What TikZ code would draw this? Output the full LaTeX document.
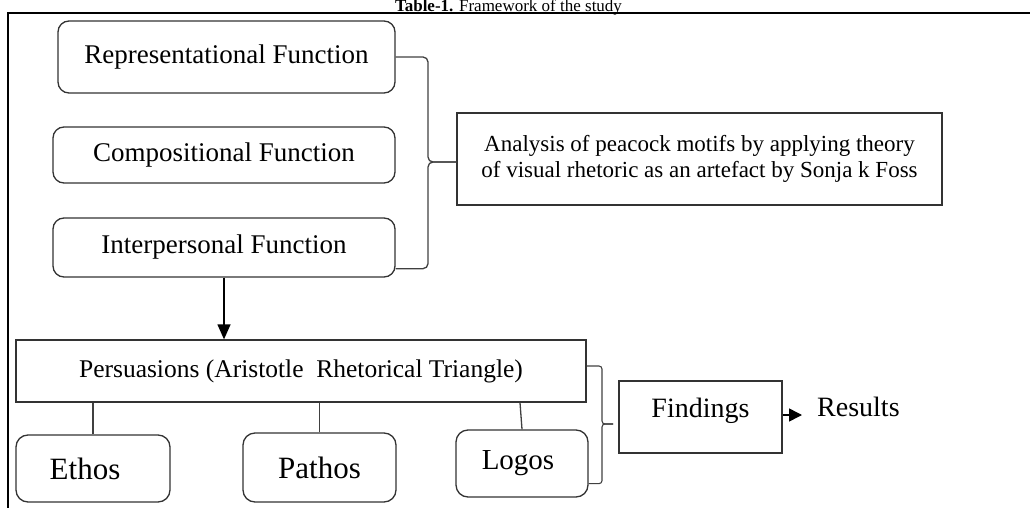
\documentclass[tikz,border=0pt]{standalone}
\usepackage{fontspec}
\setmainfont{Liberation Serif}
\usetikzlibrary{arrows.meta,calc}
\begin{document}
\begin{tikzpicture}[x=1pt,y=-1pt,
  fnbox/.style={draw=black!80,line width=1.3pt,rounded corners=11pt,inner sep=0pt,font=\fontsize{27}{29}\selectfont},
  bigbox/.style={draw=black!80,line width=1.3pt,rounded corners=12pt,inner sep=0pt,font=\fontsize{31}{33}\selectfont},
  sqbox/.style={draw=black!80,line width=1.3pt,inner sep=0pt},
  conn/.style={draw=black!75,line width=1.3pt},
  arr/.style={draw=black,line width=1.3pt,-{Triangle[length=15pt,width=13pt]}}]
\useasboundingbox (0,0) rectangle (1030,508);
% title
\node[anchor=base,inner sep=0pt,font=\fontsize{17}{19}\selectfont] (title) at (508.5,11.5) {\textbf{Table-1.} Framework of the study};
% outer frame
\draw[line width=2pt] (8,530) -- (8,13.5) -- (1050,13.5);
% function boxes
\node[fnbox,minimum width=337pt,minimum height=72pt] (rep) at (226.5,57) {Representational Function};
\node[fnbox,minimum width=342pt,minimum height=56pt] (comp) at (224,155) {Compositional Function};
\node[fnbox,minimum width=342pt,minimum height=59pt] (inter) at (224,247.5) {Interpersonal Function};
% analysis
\node[sqbox,minimum width=485pt,minimum height=92pt,align=center,font=\fontsize{23}{26.5}\selectfont] (ana) at (699.5,159)
  {Analysis of peacock motifs by applying theory\\of visual rhetoric as an artefact by Sonja k Foss};
% persuasions
\node[sqbox,minimum width=570pt,minimum height=62pt,font=\fontsize{25.5}{28}\selectfont] (persu) at (301,371) {Persuasions (Aristotle\ \ Rhetorical Triangle)};
% ethos pathos logos
\node[bigbox,minimum width=154pt,minimum height=67pt] (ethos) at (93,468.5) {\hspace*{-16pt}Ethos};
\node[bigbox,minimum width=153pt,minimum height=69pt] (pathos) at (319.5,467.5) {Pathos};
\node[bigbox,minimum width=132pt,minimum height=67pt,font=\fontsize{29}{31}\selectfont] (logos) at (522,463.5) {\hspace*{-8pt}Logos};
% findings / results
\node[sqbox,minimum width=163pt,minimum height=72pt,font=\fontsize{28}{30}\selectfont,text height=22pt,text depth=22pt] (find) at (700.5,417) {Findings};
\node[anchor=west,inner xsep=15pt,inner ysep=0pt,font=\fontsize{28}{30}\selectfont] (res) at (802,407) {Results};
% bracket 1
\coordinate (b1) at (428,162);
\draw[conn,rounded corners=5pt] (rep.east) -| (b1) -- (b1 -| ana.west);
\draw[conn,rounded corners=5pt] ($(inter.south east)+(0,-9)$) -| (b1) -- (b1 -| ana.west);
% arrow to persuasions
\draw[arr] (inter.south) -- (inter.south |- persu.north);
% children lines
\draw[conn] (ethos.north) -- (ethos.north |- persu.south);
\draw[conn] (pathos.north) -- (pathos.north |- persu.south);
\draw[conn] (logos.north) -- ($(logos.north |- persu.south)+(-2,0)$);
% bracket 2
\coordinate (b2) at (602,424);
\coordinate (b2end) at (613,424);
\draw[conn,line width=1.1pt,rounded corners=3pt] ($(persu.east)+(0,-5)$) -| (b2) -- (b2end);
\draw[conn,line width=1.1pt,rounded corners=3pt] ($(logos.south east)+(0,-14)$) -| (b2) -- (b2end);
% findings -> results
\draw[draw=black,line width=1.5pt,-{Triangle[length=13pt,width=13pt]}] ($(find.east)+(0,-2)$) -- ($(find.east -| res.west)+(0,-2)$);
\end{tikzpicture}
\end{document}
